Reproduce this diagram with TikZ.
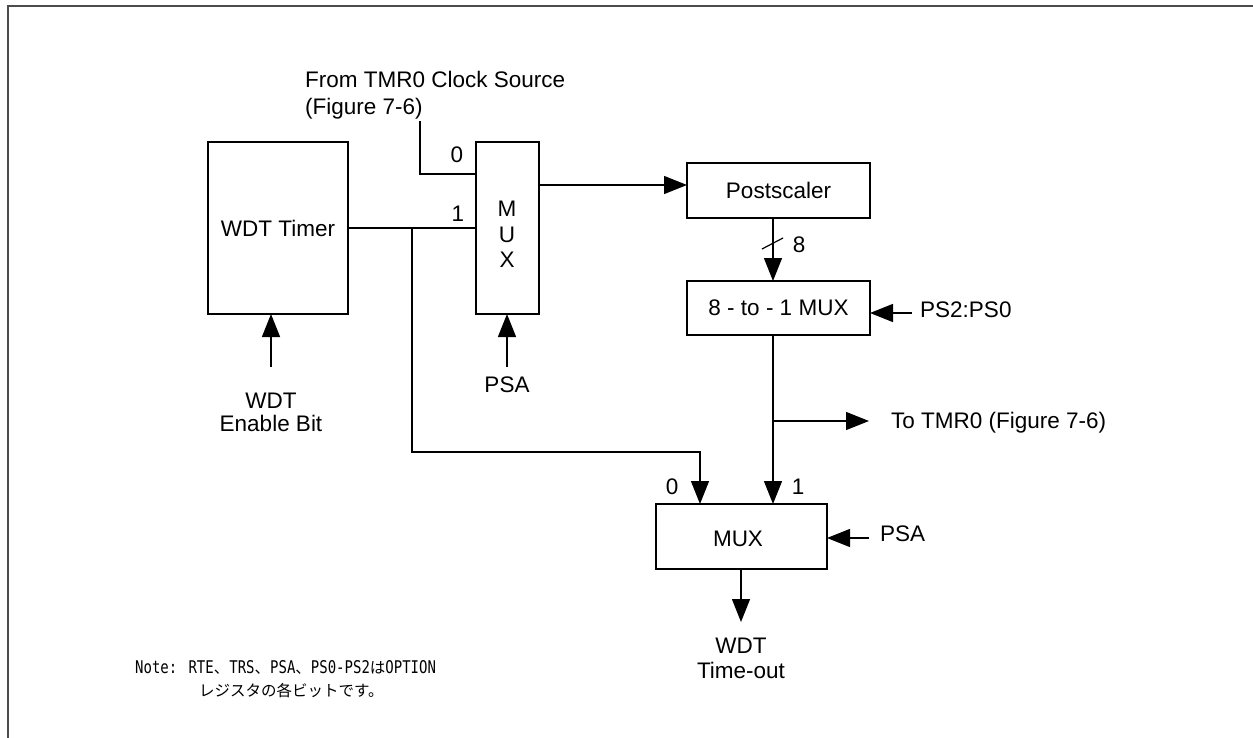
\documentclass[tikz,border=0pt]{standalone}
\usepackage{fontspec}
\setmainfont{Liberation Sans}
\newfontfamily\jpfont{Noto Sans CJK JP}
\newfontfamily\notemono[FakeStretch=0.8]{DejaVu Sans Mono}
\usetikzlibrary{arrows.meta}
\newcommand\jpc[1]{{\jpfont\fontsize{15.5}{17}\selectfont #1}}
\begin{document}
\begin{tikzpicture}[x=1pt,y=-1pt,
  font=\fontsize{22.5}{26}\selectfont,
  box/.style={draw, line width=1.2pt, inner sep=0pt},
  wire/.style={line width=1.2pt},
  arr/.style={line width=1.2pt, -{Triangle[length=23pt,width=18pt]}},
  lbl/.style={inner sep=0pt, anchor=base},
  lblw/.style={inner sep=0pt, anchor=base west},
  frame/.style={line width=2pt, draw=black!70}]
\useasboundingbox (0,0) rectangle (1253,738);
% frame
\draw[frame] (8,738) -- (8,6) -- (1253,6);

% blocks
\node[box, minimum width=140pt, minimum height=172pt] (wdt) at (278,228) {WDT Timer};
\node[box, minimum width=63pt, minimum height=172pt] (mux1) at (507.5,228) {};
\node[box, minimum width=183pt, minimum height=55pt] (post) at (778.5,190.5) {Postscaler};
\node[box, minimum width=183pt, minimum height=54pt] (sel) at (778.5,308) {8 - to - 1 MUX};
\node[box, minimum width=171pt, minimum height=65pt] (mux2) at (741.5,536.5) {};

% texts
\node[lbl] (tm) at (507,217) {M};
\node[lbl] (tu) at (507,243) {U};
\node[lbl] (tx) at (507,267) {X};
\node[lbl] (tmux2) at (738,546) {MUX};
\node[lblw] (src1) at (305,88) {From TMR0 Clock Source};
\node[lblw] (src2) at (305,115) {(Figure 7-6)};
\node[lbl] (l0a) at (457,163) {0};
\node[lbl] (l1a) at (458,222) {1};
\node[lbl] (psa1) at (507,392) {PSA};
\node[lbl] (en1) at (271,408) {WDT};
\node[lbl] (en2) at (271,431) {Enable Bit};
\node[lbl] (l8) at (799,253) {8};
\node[lblw] (ps20) at (920,317) {PS2:PS0};
\node[lblw] (totmr) at (891,428) {To TMR0 (Figure 7-6)};
\node[lbl] (l0b) at (672,494) {0};
\node[lbl] (l1b) at (798,494) {1};
\node[lblw] (psa2) at (880,541) {PSA};
\node[lbl] (wto1) at (741,653) {WDT};
\node[lbl] (wto2) at (741,678) {Time-out};

% note
\node[lblw, font=\notemono\fontsize{17.5}{18}\selectfont] (note1) at (135,673)
  {Note: RTE\jpc{、}TRS\jpc{、}PSA\jpc{、}PS0-PS2\jpc{は}OPTION};
\node[lblw, font=\jpfont\fontsize{15.5}{17}\selectfont] (note2) at (199,696) {レジスタの各ビットです。};

% coordinates
\coordinate (srcend) at (420,121);
\coordinate (m1in0) at (476,174);
\coordinate (j1) at (412,228);
\coordinate (c1) at (412,452);
\coordinate (m2in0) at (700,504);
\coordinate (m1out) at (539,185);
\coordinate (psin) at (687,185);
\coordinate (postout) at (773,218);
\coordinate (selin) at (773,281);
\coordinate (selout) at (773,335);
\coordinate (m2in1) at (773,504);
\coordinate (j2) at (773,421);
\coordinate (totip) at (869,421);
\coordinate (psstart) at (912,313);
\coordinate (pstip) at (870,313);
\coordinate (psa2start) at (869,538);
\coordinate (psa2tip) at (827,538);
\coordinate (m2out) at (741,569);
\coordinate (wtotip) at (741,622);
\coordinate (psa1start) at (507,367);
\coordinate (psa1tip) at (507,314);
\coordinate (enstart) at (271,367);
\coordinate (entip) at (271,314);
\coordinate (sl1) at (762,249);
\coordinate (sl2) at (783,238);

% connectors
\draw[wire] (srcend) |- (m1in0);
\draw[wire] (wdt.east) -- (mux1.west);
\draw[arr] (j1) -- (c1) -| (m2in0);
\draw[arr] (m1out) -- (psin);
\draw[arr] (postout) -- (selin);
\draw[wire] (sl1) -- (sl2);
\draw[arr] (psstart) -- (pstip);
\draw[arr] (selout) -- (m2in1);
\draw[arr] (j2) -- (totip);
\draw[arr] (psa2start) -- (psa2tip);
\draw[arr] (m2out) -- (wtotip);
\draw[arr] (psa1start) -- (psa1tip);
\draw[arr] (enstart) -- (entip);
\end{tikzpicture}
\end{document}
